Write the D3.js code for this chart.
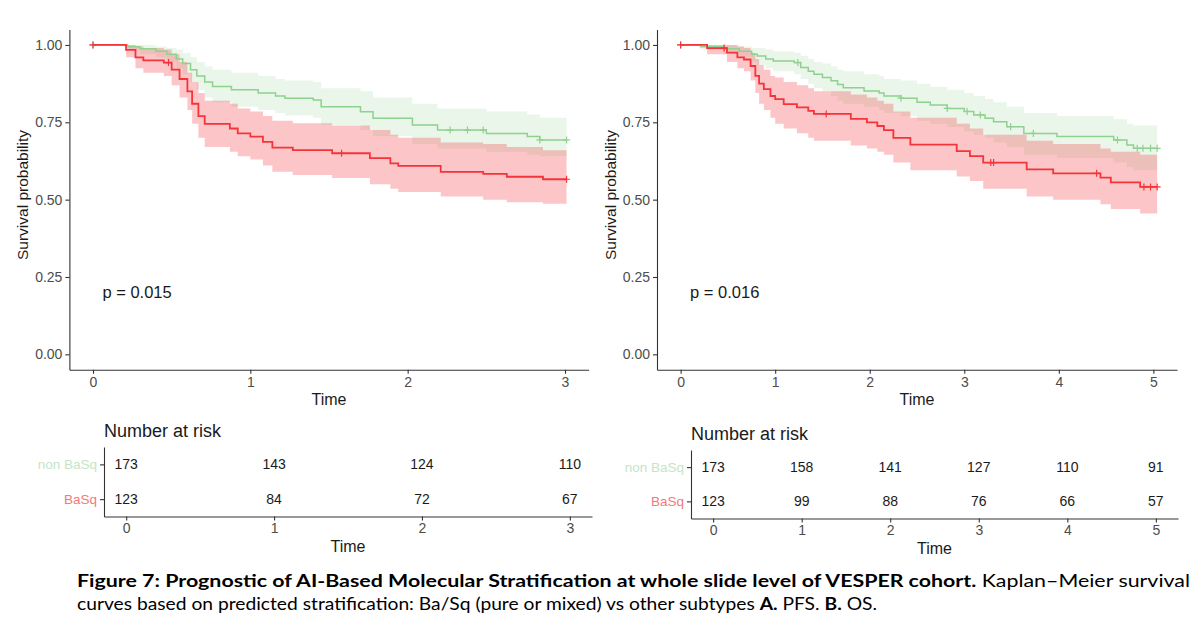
<!DOCTYPE html>
<html>
<head>
<meta charset="utf-8">
<script src="https://cdn.jsdelivr.net/npm/d3@7"></script>
<style>
  body { margin: 0; background: #fff; }
  svg { display: block; }
  text { font-family: "Liberation Sans", Arial, sans-serif; }
</style>
</head>
<body>
<svg id="fig" width="1200" height="631"></svg>
<script>
// ---- data: [time, survival, lower CI, upper CI] ----
var pfsNon = [
  [0, 1, 1, 1], [0.22, 0.994, 0.985, 1], [0.30, 0.988, 0.97, 1], [0.40, 0.98, 0.96, 0.995],
  [0.47, 0.97, 0.945, 0.99], [0.53, 0.955, 0.925, 0.985], [0.57, 0.94, 0.905, 0.975],
  [0.62, 0.92, 0.88, 0.96], [0.66, 0.90, 0.855, 0.945], [0.71, 0.88, 0.83, 0.93],
  [0.76, 0.866, 0.815, 0.92], [0.88, 0.855, 0.80, 0.91], [1.05, 0.845, 0.79, 0.90],
  [1.16, 0.835, 0.78, 0.89], [1.22, 0.828, 0.772, 0.885], [1.40, 0.822, 0.765, 0.88],
  [1.45, 0.80, 0.742, 0.86], [1.70, 0.784, 0.725, 0.85], [1.78, 0.763, 0.705, 0.83],
  [2.03, 0.741, 0.68, 0.81], [2.19, 0.725, 0.665, 0.795], [2.50, 0.714, 0.655, 0.785],
  [2.76, 0.704, 0.645, 0.775], [2.84, 0.693, 0.64, 0.765], [3.01, 0.693, 0.64, 0.765]
];
var pfsBasq = [
  [0, 1, 1, 1], [0.21, 0.984, 0.96, 1], [0.27, 0.96, 0.925, 0.995], [0.32, 0.95, 0.91, 0.99],
  [0.45, 0.943, 0.90, 0.985], [0.50, 0.92, 0.87, 0.97], [0.55, 0.89, 0.83, 0.945],
  [0.60, 0.85, 0.79, 0.91], [0.63, 0.81, 0.745, 0.88], [0.67, 0.77, 0.70, 0.845],
  [0.71, 0.745, 0.67, 0.82], [0.87, 0.73, 0.655, 0.81], [0.92, 0.714, 0.64, 0.795],
  [1.00, 0.704, 0.63, 0.785], [1.08, 0.687, 0.61, 0.77], [1.14, 0.668, 0.59, 0.755],
  [1.27, 0.660, 0.58, 0.747], [1.52, 0.650, 0.57, 0.74], [1.76, 0.634, 0.55, 0.725],
  [1.89, 0.617, 0.535, 0.71], [1.94, 0.609, 0.525, 0.70], [2.21, 0.590, 0.51, 0.685],
  [2.48, 0.583, 0.50, 0.68], [2.63, 0.574, 0.492, 0.67], [2.86, 0.566, 0.487, 0.66],
  [3.01, 0.566, 0.487, 0.66]
];
var osNon = [
  [0, 1, 1, 1], [0.21, 0.994, 0.985, 1], [0.45, 0.988, 0.97, 1], [0.62, 0.98, 0.96, 0.995],
  [0.75, 0.97, 0.945, 0.99], [0.81, 0.964, 0.935, 0.99], [0.90, 0.955, 0.925, 0.985],
  [0.98, 0.948, 0.915, 0.98], [1.20, 0.943, 0.905, 0.975], [1.27, 0.927, 0.89, 0.965],
  [1.35, 0.915, 0.875, 0.955], [1.41, 0.905, 0.86, 0.945], [1.50, 0.895, 0.85, 0.94],
  [1.59, 0.884, 0.835, 0.93], [1.66, 0.872, 0.82, 0.92], [1.72, 0.862, 0.81, 0.915],
  [1.94, 0.851, 0.80, 0.905], [2.10, 0.845, 0.79, 0.90], [2.15, 0.835, 0.78, 0.89],
  [2.33, 0.828, 0.77, 0.885], [2.50, 0.815, 0.755, 0.875], [2.64, 0.806, 0.745, 0.865],
  [2.82, 0.795, 0.735, 0.855], [3.00, 0.785, 0.72, 0.845], [3.10, 0.774, 0.71, 0.835],
  [3.22, 0.763, 0.70, 0.825], [3.31, 0.752, 0.685, 0.815], [3.45, 0.736, 0.67, 0.80],
  [3.63, 0.714, 0.645, 0.78], [3.98, 0.704, 0.635, 0.77], [4.58, 0.693, 0.62, 0.76],
  [4.72, 0.677, 0.605, 0.745], [4.79, 0.666, 0.595, 0.74], [5.04, 0.666, 0.595, 0.74]
];
var osBasq = [
  [0, 1, 1, 1], [0.28, 0.99, 0.97, 1], [0.49, 0.975, 0.945, 1], [0.60, 0.96, 0.925, 0.995],
  [0.67, 0.953, 0.915, 0.99], [0.74, 0.932, 0.885, 0.975], [0.79, 0.90, 0.845, 0.955],
  [0.83, 0.875, 0.81, 0.935], [0.88, 0.857, 0.79, 0.92], [0.95, 0.835, 0.765, 0.90],
  [1.00, 0.825, 0.745, 0.895], [1.09, 0.809, 0.73, 0.88], [1.23, 0.798, 0.715, 0.87],
  [1.35, 0.787, 0.70, 0.86], [1.41, 0.777, 0.69, 0.85], [1.80, 0.761, 0.675, 0.84],
  [1.97, 0.75, 0.665, 0.83], [2.08, 0.738, 0.655, 0.82], [2.15, 0.725, 0.645, 0.81],
  [2.25, 0.70, 0.62, 0.785], [2.43, 0.678, 0.595, 0.765], [2.92, 0.657, 0.575, 0.745],
  [3.06, 0.641, 0.56, 0.73], [3.20, 0.62, 0.535, 0.71], [3.66, 0.598, 0.51, 0.69],
  [3.94, 0.585, 0.50, 0.68], [4.44, 0.571, 0.485, 0.665], [4.55, 0.556, 0.47, 0.655],
  [4.86, 0.541, 0.455, 0.645], [5.04, 0.541, 0.455, 0.645]
];

// censoring marks (times)
var pfsCensNon = [0, 2.27, 2.38, 2.48, 2.84, 3.01];
var pfsCensBasq = [0, 0.48, 1.58, 3.01];
var osCensNon = [0, 1.24, 2.33, 2.82, 3.03, 3.17, 3.49, 3.73, 4.62, 4.83, 4.89, 4.97, 5.04];
var osCensBasq = [0, 0.46, 1.54, 3.28, 3.31, 4.40, 4.90, 4.97, 5.04];

// numbers at risk
var groups = ["non BaSq", "BaSq"];
var pfsTimes = [0, 1, 2, 3];
var pfsRiskNon = [173, 143, 124, 110];
var pfsRiskBasq = [123, 84, 72, 67];
var osTimes = [0, 1, 2, 3, 4, 5];
var osRiskNon = [173, 158, 141, 127, 110, 91];
var osRiskBasq = [123, 99, 88, 76, 66, 57];

var yTicks = [0, 0.25, 0.5, 0.75, 1];

var colNon = "#8fd18f", colBasq = "#f5343a";
var labNon = "#c4e6c4", labBasq = "#f27a7a";
var axisCol = "#333", tickTxt = "#4d4d4d", titleCol = "#1a1a1a";

var svg = d3.select("#fig");

function styleAxis(g, size) {
  g.select(".domain").attr("stroke", axisCol).attr("stroke-width", 1.1);
  g.selectAll(".tick line").attr("stroke", axisCol).attr("stroke-width", 1.1);
  g.selectAll(".tick text").attr("fill", tickTxt).style("font-size", (size || 14) + "px")
    .style("font-family", "'Liberation Sans', Arial, sans-serif");
}

function drawKM(cfg) {
  var x = d3.scaleLinear().domain(cfg.xDomain).range(cfg.xRange);
  var y = d3.scaleLinear().domain([-0.05, 1.05]).range([369.8, 29.5]);
  var g = svg.append("g");

  var area = d3.area().curve(d3.curveStepAfter)
    .x(function(d) { return x(d[0]); })
    .y0(function(d) { return y(d[2]); })
    .y1(function(d) { return y(d[3]); });
  var line = d3.line().curve(d3.curveStepAfter)
    .x(function(d) { return x(d[0]); })
    .y(function(d) { return y(d[1]); });

  var series = [
    { data: cfg.non, cens: cfg.censNon, col: colNon, op: 0.2, w: 1.5 },
    { data: cfg.basq, cens: cfg.censBasq, col: colBasq, op: 0.28, w: 1.8 }
  ];
  series.forEach(function(s) {
    g.append("path").attr("d", area(s.data)).attr("fill", s.col).attr("fill-opacity", s.op);
  });
  var bis = d3.bisector(function(d) { return d[0]; }).right;
  series.forEach(function(s) {
    g.append("path").attr("d", line(s.data)).attr("fill", "none")
      .attr("stroke", s.col).attr("stroke-width", s.w);
    s.cens.forEach(function(t) {
      var i = Math.max(0, bis(s.data, t) - 1);
      var cx = x(t), cy = y(s.data[i][1]);
      g.append("path").attr("d", "M" + (cx - 3.5) + "," + cy + "H" + (cx + 3.5) + "M" + cx + "," + (cy - 3.5) + "V" + (cy + 3.5))
        .attr("stroke", s.col).attr("stroke-width", 1.2).attr("fill", "none");
    });
  });

  var ax = g.append("g").attr("transform", "translate(0," + y(-0.05) + ")")
    .call(d3.axisBottom(x).tickValues(cfg.ticks).tickFormat(d3.format("d")).tickSize(4).tickSizeOuter(0).tickPadding(3));
  styleAxis(ax);
  var ay = g.append("g").attr("transform", "translate(" + x(cfg.xDomain[0]) + ",0)")
    .call(d3.axisLeft(y).tickValues(yTicks).tickFormat(d3.format(".2f")).tickSize(4).tickSizeOuter(0).tickPadding(3));
  styleAxis(ay);

  var xm = (cfg.xRange[0] + cfg.xRange[1]) / 2;
  g.append("text").attr("x", xm).attr("y", 405).attr("text-anchor", "middle")
    .attr("fill", titleCol).style("font-size", "16px").text("Time");
  g.append("text").attr("transform", "translate(" + (cfg.xRange[0] - 41) + ",195) rotate(-90)")
    .attr("text-anchor", "middle").attr("fill", titleCol).style("font-size", "15.5px")
    .text("Survival probability");
  g.append("text").attr("x", x(cfg.pX)).attr("y", y(0.2)).attr("dy", "0.35em")
    .attr("fill", titleCol).style("font-size", "16.5px").text(cfg.pText);
}

function drawRisk(cfg) {
  var x = d3.scaleLinear().domain(cfg.xDomain).range(cfg.xRange);
  var r = d3.scalePoint().domain(groups).range([cfg.top, cfg.bottom]).padding(0.5);
  var g = svg.append("g");
  var x0 = cfg.xRange[0];

  g.append("text").attr("x", x0).attr("y", cfg.top - 10).attr("fill", titleCol)
    .style("font-size", "18px").text("Number at risk");

  var rows = [{ name: groups[0], vals: cfg.non }, { name: groups[1], vals: cfg.basq }];
  rows.forEach(function(row) {
    row.vals.forEach(function(v, i) {
      g.append("text").attr("x", x(cfg.times[i])).attr("y", r(row.name)).attr("dy", "0.35em")
        .attr("text-anchor", "middle").attr("fill", titleCol).style("font-size", "14px").text(v);
    });
  });

  var ax = g.append("g").attr("transform", "translate(0," + cfg.bottom + ")")
    .call(d3.axisBottom(x).tickValues(cfg.times).tickFormat(d3.format("d")).tickSize(4).tickSizeOuter(0).tickPadding(3));
  styleAxis(ax);
  var ay = g.append("g").attr("transform", "translate(" + x0 + ",0)")
    .call(d3.axisLeft(r).tickSize(4).tickSizeOuter(0).tickPadding(3));
  styleAxis(ay, 13.5);
  ay.selectAll(".tick text").attr("fill", function(d) { return d === groups[0] ? labNon : labBasq; });

  g.append("text").attr("x", (cfg.xRange[0] + cfg.xRange[1]) / 2).attr("y", cfg.bottom + 35)
    .attr("text-anchor", "middle").attr("fill", titleCol).style("font-size", "16px").text("Time");
}

drawKM({ xDomain: [-0.15, 3.15], xRange: [69.4, 588.6], ticks: pfsTimes, non: pfsNon, basq: pfsBasq,
  censNon: pfsCensNon, censBasq: pfsCensBasq, pX: 0.06, pText: "p = 0.015" });
drawKM({ xDomain: [-0.25, 5.25], xRange: [657, 1177], ticks: osTimes, non: osNon, basq: osBasq,
  censNon: osCensNon, censBasq: osCensBasq, pX: 0.1, pText: "p = 0.016" });
drawRisk({ xDomain: [-0.15, 3.15], xRange: [104, 592], times: pfsTimes, non: pfsRiskNon, basq: pfsRiskBasq,
  top: 447, bottom: 516.5 });
drawRisk({ xDomain: [-0.25, 5.25], xRange: [691, 1178], times: osTimes, non: osRiskNon, basq: osRiskBasq,
  top: 450, bottom: 518.5 });

// caption
var capFont = "Lato, 'Open Sans', sans-serif";
var c1 = svg.append("text").attr("x", 77).attr("y", 587).style("font-size", "16.5px")
  .style("font-family", capFont).attr("fill", "#000")
  .attr("textLength", 1113).attr("lengthAdjust", "spacingAndGlyphs");
c1.append("tspan").attr("font-weight", "bold")
  .text("Figure 7: Prognostic of AI-Based Molecular Stratification at whole slide level of VESPER cohort.");
c1.append("tspan").text(" Kaplan\u2013Meier survival");
var c2 = svg.append("text").attr("x", 77).attr("y", 610).style("font-size", "16.5px")
  .style("font-family", capFont).attr("fill", "#000")
  .attr("textLength", 800).attr("lengthAdjust", "spacingAndGlyphs");
c2.append("tspan").text("curves based on predicted stratification: Ba/Sq (pure or mixed) vs other subtypes ");
c2.append("tspan").attr("font-weight", "bold").text("A.");
c2.append("tspan").text(" PFS. ");
c2.append("tspan").attr("font-weight", "bold").text("B.");
c2.append("tspan").text(" OS.");
</script>
</body>
</html>
